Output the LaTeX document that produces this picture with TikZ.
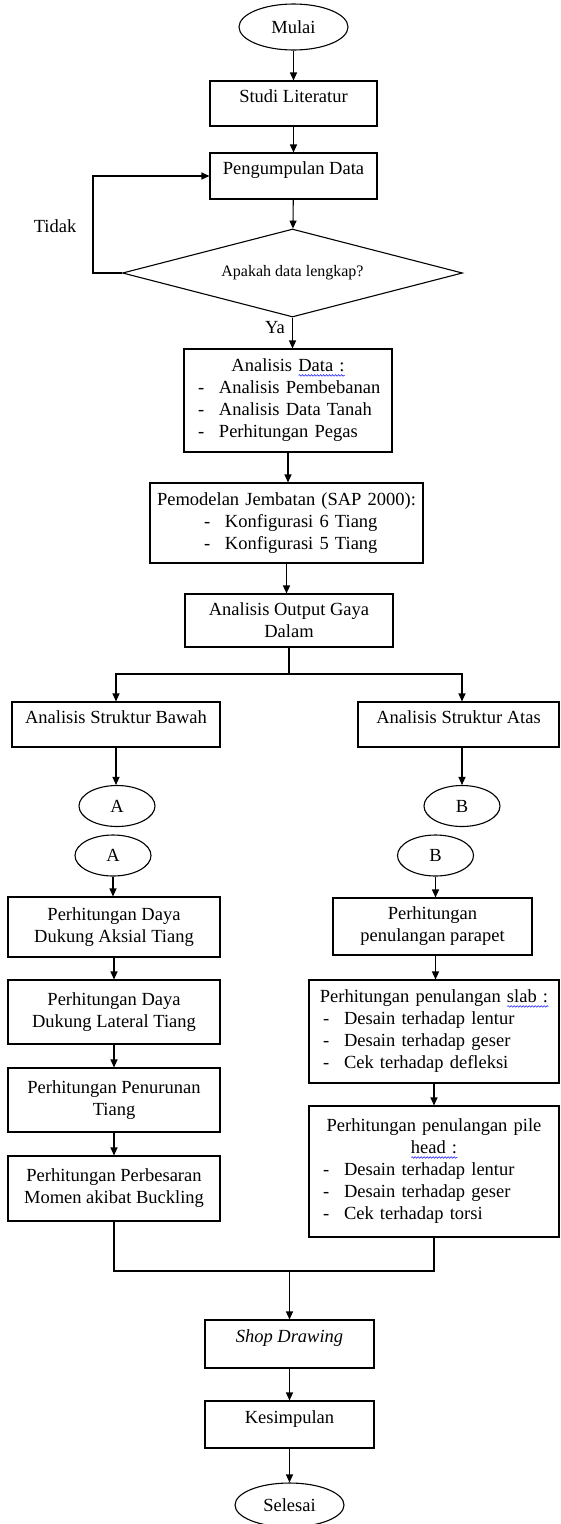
\documentclass[tikz,border=0pt]{standalone}
\usepackage{fontspec}
\setmainfont{Liberation Serif}
\usepackage{tikz}
\usetikzlibrary{arrows.meta, shapes.geometric, calc, decorations.pathmorphing}

\newlength{\wavewd}
\newcommand{\spellwave}[1]{\leavevmode\settowidth{\wavewd}{#1}\rlap{\tikz[baseline=0pt]\draw[blue!80!white, line width=0.6pt,
  decorate, decoration={snake, segment length=3pt, amplitude=0.8pt}] (0pt,-3.5pt) -- (\wavewd,-3.5pt);}#1}
\newcommand{\dashitem}[2][0pt]{\par\raggedright\noindent\hspace*{#1}\makebox[21pt][l]{-}#2}

\begin{document}
\begin{tikzpicture}[x=1pt, y=-1pt,
  term/.style={ellipse, draw=black, line width=1.1pt,
               minimum width=109pt, minimum height=46pt, inner sep=0pt,
               font=\fontsize{18.5}{22}\selectfont},
  conn/.style={ellipse, draw=black, line width=1.1pt,
               minimum width=76pt, minimum height=41pt, inner sep=0pt,
               font=\fontsize{18.5}{22}\selectfont},
  pbox/.style={rectangle, draw=black, line width=1.1pt,
               minimum width=169pt, minimum height=46pt, inner sep=2pt,
               text height=13pt, text depth=16pt,
               font=\fontsize{18.5}{22}\selectfont},
  mbox/.style={rectangle, draw=black, line width=1.1pt,
               align=center, inner sep=2pt,
               font=\fontsize{18.5}{22}\selectfont},
  lbox/.style={rectangle, draw=black, line width=1.1pt, inner ysep=2pt,
               font=\fontsize{18.5}{22}\selectfont},
  decision/.style={diamond, draw=black, line width=1.1pt, aspect=3.86,
               minimum width=340pt, minimum height=88pt, inner sep=0pt,
               font=\fontsize{16}{19}\selectfont},
  lbl/.style={inner sep=0pt, font=\fontsize{18.5}{22}\selectfont},
  arr/.style={-{Triangle[length=8pt, width=7pt]}, line width=1.1pt},
  ln/.style={line width=1.1pt}
]
\useasboundingbox (0,0) rectangle (560,1524);
\node[term] (mulai) at (293.5,27) {Mulai};
\node[pbox, minimum width=167pt, minimum height=45pt] (studi) at (293.5,103.5) {Studi Literatur};
\node[pbox, minimum width=167pt] (kumpul) at (293.5,176) {Pengumpulan Data};
\node[decision] (cek) at (292.5,273) {Apakah data lengkap?};
\node[lbl] (tidak) at (55,226) {Tidak};
\node[lbl] (ya) at (275,328) {Ya};
\node[lbox, minimum width=208pt, minimum height=103pt, inner xsep=11pt, text width=186pt]
  (adata) at (288,400.5) {\centering Analisis \spellwave{Data :}
  \dashitem[3pt]{Analisis Pembebanan}
  \dashitem[3pt]{Analisis Data Tanah}
  \dashitem[3pt]{Perhitungan Pegas}};
\node[lbox, minimum width=273pt, minimum height=80pt, inner xsep=3pt, text width=267pt]
  (model) at (286.5,523) {\centering Pemodelan Jembatan (SAP 2000):
  \dashitem[51pt]{Konfigurasi 6 Tiang}
  \dashitem[51pt]{Konfigurasi 5 Tiang}};
\node[mbox, minimum width=208pt, minimum height=53pt] (output) at (289,620.5) {Analisis Output Gaya\\Dalam};
\node[pbox, minimum width=208pt, minimum height=45pt] (bawah) at (116,724.5) {Analisis Struktur Bawah};
\node[pbox, minimum width=201pt, minimum height=45pt] (atas) at (458.5,724.5) {Analisis Struktur Atas};
\node[conn] (a1) at (117,806) {A};
\node[conn] (a2) at (113,855.5) {A};
\node[conn] (b1) at (462,806) {B};
\node[conn] (b2) at (435.5,855.5) {B};
\node[mbox, minimum width=212pt, minimum height=60pt] (aksial) at (114,927) {Perhitungan Daya\\Dukung Aksial Tiang};
\node[mbox, minimum width=212pt, minimum height=64pt] (lateral) at (114,1012) {Perhitungan Daya\\Dukung Lateral Tiang};
\node[mbox, minimum width=212pt, minimum height=64pt] (turun) at (114,1100) {Perhitungan Penurunan\\Tiang};
\node[mbox, minimum width=212pt, minimum height=65pt] (besar) at (114,1188.5) {Perhitungan Perbesaran\\Momen akibat Buckling};
\node[mbox, minimum width=199pt, minimum height=57pt] (parapet) at (432.5,926.5) {Perhitungan\\penulangan parapet};
\node[lbox, minimum width=250pt, minimum height=103pt, inner xsep=6pt, text width=238pt]
  (slab) at (434,1031.5) {\centering Perhitungan penulangan \spellwave{slab :}
  \dashitem[8pt]{Desain terhadap lentur}
  \dashitem[8pt]{Desain terhadap geser}
  \dashitem[8pt]{Cek terhadap defleksi}};
\node[lbox, minimum width=250pt, minimum height=131pt, inner xsep=6pt, text width=238pt]
  (pile) at (434,1171.5) {\centering Perhitungan penulangan pile\\ \spellwave{head :}
  \dashitem[8pt]{Desain terhadap lentur}
  \dashitem[8pt]{Desain terhadap geser}
  \dashitem[8pt]{Cek terhadap torsi}};
\node[pbox, minimum width=169pt, minimum height=48pt] (shop) at (289.5,1344) {\textit{Shop Drawing}};
\node[pbox, minimum width=169pt, minimum height=47pt] (simpul) at (289.5,1424.5) {Kesimpulan};
\node[term, minimum height=44pt] (selesai) at (289.5,1505) {Selesai};
\coordinate (fork) at (288,674);
\coordinate (join) at (289.5,1271);
\draw[arr] (mulai) -- (studi); \draw[arr] (studi) -- (kumpul);
\draw[arr] (kumpul) -- (cek);
\draw[arr] (cek.west) -- ++(-29,0) |- (kumpul.west);
\draw[arr] (cek.south) -- (cek.south |- adata.north);
\draw[arr] (adata.south) -- (adata.south |- model.north);
\draw[arr] (model.south) -- (model.south |- output.north);
\draw[ln] (output.south) -- (output.south |- fork);
\draw[arr] (output.south |- fork) -| (bawah.north);
\draw[arr] (output.south |- fork) -| ($(atas.north)+(3.5,0)$);
\draw[arr] (bawah.south) -- (bawah.south |- a1.north);
\draw[arr] (atas.south -| b1.north) -- (b1.north);
\draw[arr] (a2.south) -- (a2.south |- aksial.north);
\draw[arr] (aksial) -- (lateral); \draw[arr] (lateral) -- (turun);
\draw[arr] (turun) -- (besar);
\draw[arr] (b2.south) -- (b2.south |- parapet.north);
\draw[arr] (parapet.south -| b2.south) -- (slab.north -| b2.south);
\draw[arr] (slab) -- (pile);
\draw[ln] (besar.south) |- (join) -| (pile.south);
\draw[arr] (join) -- (shop.north);
\draw[arr] (shop) -- (simpul); \draw[arr] (simpul) -- (selesai);
\end{tikzpicture}
\end{document}
